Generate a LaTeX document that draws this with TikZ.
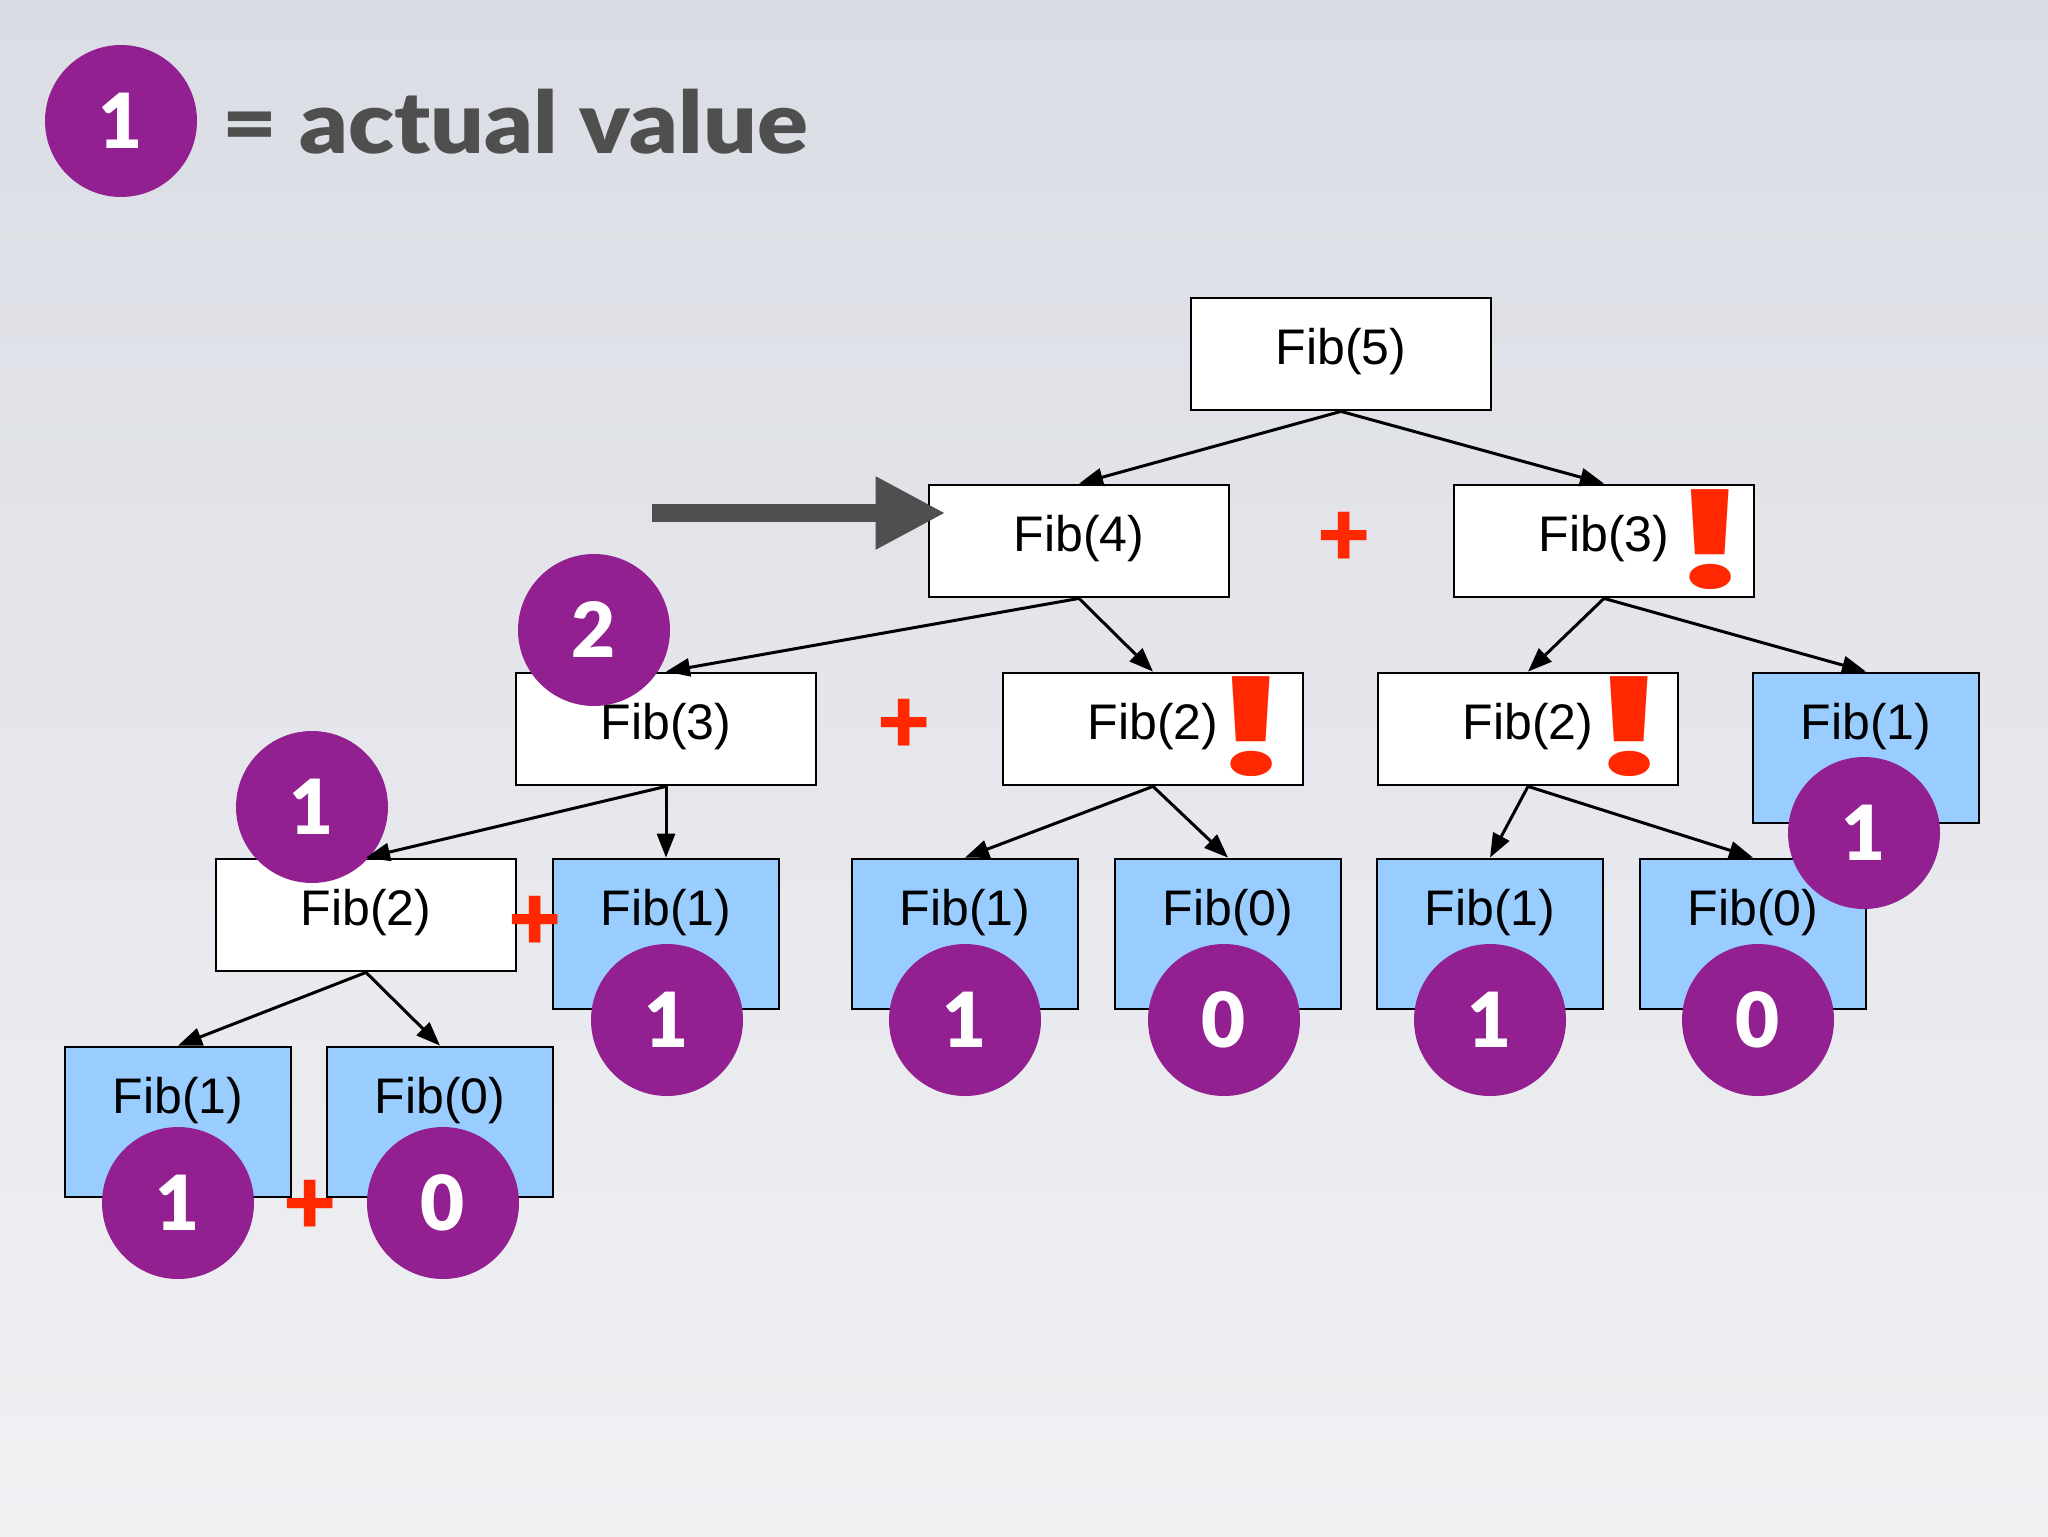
\documentclass[tikz,border=0pt]{standalone}
\usepackage{fontspec}
\setmainfont{Liberation Sans}
\newfontfamily\heavy{Lato Black}
\newfontfamily\bangfont{Poppins}
\usetikzlibrary{arrows.meta}
\definecolor{bgtop}{RGB}{218,221,228}
\definecolor{bgbot}{RGB}{241,241,244}
\definecolor{purp}{RGB}{146,32,144}
\definecolor{lblue}{RGB}{153,204,255}
\definecolor{redm}{RGB}{255,40,0}
\definecolor{dgray}{RGB}{79,79,79}
\begin{document}
\begin{tikzpicture}[x=0.5pt,y=-0.5pt,
  wbox/.style={draw=black, fill=white, line width=1.4pt, minimum width=150pt, minimum height=56pt, inner sep=0pt},
  bbox/.style={draw=black, fill=lblue, line width=1.4pt, minimum width=113pt, minimum height=75pt, inner sep=0pt},
  fibt/.style={font=\fontsize{25}{30}\selectfont, anchor=base, inner sep=0pt, text=black},
  vcirc/.style={circle, fill=purp, minimum size=76pt, inner sep=0pt, text=white, font=\heavy\fontsize{38}{40}\selectfont},
  pls/.style={text=redm, font=\heavy\fontsize{46}{48}\selectfont, inner sep=0pt},
  bang/.style={text=redm, font=\bangfont\bfseries\fontsize{68}{72}\selectfont, inner sep=0pt},
  conn/.style={draw=black, line width=1.5pt, -{Triangle[length=12pt,width=9pt]}},
]
\useasboundingbox (0,0) rectangle (2048,1536);
\shade[top color=bgtop, bottom color=bgbot] (0,0) rectangle (2048,1536);

% legend
\node[vcirc] (leg) at (121,121) {1};
\node[font=\heavy\fontsize{43}{48}\selectfont, text=dgray, anchor=base west, inner sep=0pt] (legt) at (222,153) {\scalebox{1.1}[1]{= actual value}};

% white boxes
\node[wbox] (f5) at (1341,354) {};
\node[wbox] (f4) at (1079,541) {};
\node[wbox] (f3a) at (1604,541) {};
\node[wbox] (f3b) at (666,729) {};
\node[wbox] (f2a) at (1153,729) {};
\node[wbox] (f2b) at (1528,729) {};
\node[wbox] (f2c) at (366,915) {};
% blue boxes
\node[bbox] (b1a) at (1866,748) {};
\node[bbox] (b1b) at (666,934) {};
\node[bbox] (b1c) at (965,934) {};
\node[bbox] (b0a) at (1228,934) {};
\node[bbox] (b1d) at (1490,934) {};
\node[bbox] (b0b) at (1753,934) {};
\node[bbox] (b1e) at (178,1122) {};
\node[bbox] (b0c) at (440,1122) {};

% labels
\node[fibt] (f5t) at ([yshift=-34pt]f5.north) {Fib(5)};
\node[fibt] (f4t) at ([yshift=-34pt]f4.north) {Fib(4)};
\node[fibt] (f3at) at ([yshift=-34pt]f3a.north) {Fib(3)};
\node[fibt] (f3bt) at ([yshift=-34pt]f3b.north) {Fib(3)};
\node[fibt] (f2at) at ([yshift=-34pt]f2a.north) {Fib(2)};
\node[fibt] (f2bt) at ([yshift=-34pt]f2b.north) {Fib(2)};
\node[fibt] (f2ct) at ([yshift=-34pt]f2c.north) {Fib(2)};
\node[fibt] (b1at) at ([yshift=-34pt]b1a.north) {Fib(1)};
\node[fibt] (b1bt) at ([yshift=-34pt]b1b.north) {Fib(1)};
\node[fibt] (b1ct) at ([yshift=-34pt]b1c.north) {Fib(1)};
\node[fibt] (b0at) at ([yshift=-34pt]b0a.north) {Fib(0)};
\node[fibt] (b1dt) at ([yshift=-34pt]b1d.north) {Fib(1)};
\node[fibt] (b0bt) at ([yshift=-34pt]b0b.north) {Fib(0)};
\node[fibt] (b1et) at ([yshift=-34pt]b1e.north) {Fib(1)};
\node[fibt] (b0ct) at ([yshift=-34pt]b0c.north) {Fib(0)};

% value circles
\node[vcirc] (c2) at (594,630) {2};
\node[vcirc] (c1a) at (312,807) {1};
\node[vcirc] (cb1b) at (667,1020) {1};
\node[vcirc] (cb1c) at (965,1020) {1};
\node[vcirc] (cb0a) at (1224,1020) {0};
\node[vcirc] (cb1d) at (1490,1020) {1};
\node[vcirc] (cb0b) at (1758,1020) {0};
\node[vcirc] (cb1a) at (1864,833) {1};
\node[vcirc] (cb1e) at (178,1203) {1};
\node[vcirc] (cb0c) at (443,1203) {0};

% edges
\draw[conn] (f5.south) -- (f4.north);
\draw[conn] (f5.south) -- (f3a.north);
\draw[conn] (f4.south) -- (f3b.north);
\draw[conn] (f4.south) -- (f2a.north);
\draw[conn] (f3a.south) -- (f2b.north);
\draw[conn] (f3a.south) -- (b1a.north);
\draw[conn] (f3b.south) -- (f2c.north);
\draw[conn] (f3b.south) -- (b1b.north);
\draw[conn] (f2a.south) -- (b1c.north);
\draw[conn] (f2a.south) -- (b0a.north);
\draw[conn] (f2b.south) -- (b1d.north);
\draw[conn] (f2b.south) -- (b0b.north);
\draw[conn] (f2c.south) -- (b1e.north);
\draw[conn] (f2c.south) -- (b0c.north);

% plus signs
\node[pls] (p1) at (1344,539) {+};
\node[pls] (p2) at (904,726) {+};
\node[pls] (p3) at (535,923) {+};
\node[pls] (p4) at (310,1207) {+};

% exclamation marks
\node[bang] (e1) at (1710,540) {\scalebox{1.5}[1]{!}};
\node[bang] (e2) at (1251,727) {\scalebox{1.5}[1]{!}};
\node[bang] (e3) at (1629,727) {\scalebox{1.5}[1]{!}};

% pointer arrow
\coordinate (gs) at (652,513);
\draw[line width=9pt, draw=dgray, -{Triangle[length=35pt,width=34pt]}] (gs) -- ([xshift=9pt,yshift=14pt]f4.west);
\end{tikzpicture}
\end{document}
